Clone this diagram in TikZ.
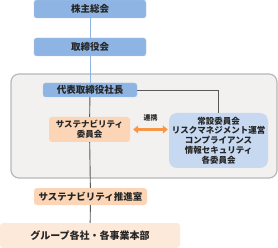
\documentclass[tikz,border=0pt]{standalone}
\usepackage{fontspec}
\usepackage{xcolor}
\usepackage{tikz}
\usetikzlibrary{positioning,arrows.meta}
\newfontfamily\jpfont{Noto Sans CJK JP}
\definecolor{boardblue}{RGB}{141,180,226}
\definecolor{paleblue}{RGB}{198,217,241}
\definecolor{susorange}{RGB}{251,213,181}
\definecolor{paleorange}{RGB}{253,233,217}
\definecolor{linkorange}{RGB}{247,150,70}
\definecolor{panelgray}{RGB}{242,241,240}
\definecolor{textdark}{RGB}{38,38,38}

\begin{document}
\begin{tikzpicture}[
  x=1pt, y=-1pt,
  every node/.style={font=\jpfont\bfseries\fontsize{9.5}{10}\selectfont, text=textdark, align=center},
  small/.style={font=\jpfont\bfseries\fontsize{8.5}{9.8}\selectfont},
  topbox/.style={rectangle, fill=boardblue, draw=boardblue!70!white, rounded corners=2.5pt, minimum width=112pt, minimum height=18pt, inner sep=0pt},
  susbox/.style={rectangle, fill=susorange, rounded corners=3pt, inner sep=0pt},
  line/.style={draw=black!65, line width=0.9pt},
  topline/.style={draw=boardblue, line width=0.9pt},
  link/.style={{Triangle[length=5pt,width=8pt]}-{Triangle[length=5pt,width=8pt]}, draw=linkorange, line width=2.6pt}
]
\useasboundingbox (0,0) rectangle (278,248);

% panel behind the executive part
\draw[fill=panelgray, draw=black!28, line width=1.2pt, rounded corners=8pt] (11,74) rectangle (277,178);

\node[topbox] (shareholders) at (90,9) {株主総会};
\node[topbox] (board) at (90,47) {取締役会};
\node[topbox, minimum width=94pt, minimum height=14pt] (president) at (90,90) {代表取締役社長};

\node[susbox, small, minimum width=81pt, minimum height=25pt] (committee) at (89.5,129.5) {サステナビリティ\\委員会};
\node[rectangle, small, fill=paleblue, rounded corners=8pt, minimum width=99pt, minimum height=55pt, inner sep=0pt] (standing) at (218.5,140.5)
  {常設委員会\\リスクマネジメント運営\\コンプライアンス\\情報セキュリティ\\各委員会};

\node[susbox, minimum width=113pt, minimum height=17pt] (promotion) at (90.5,196.5) {サステナビリティ推進室};
\node[rectangle, fill=paleorange, rounded corners=3pt, minimum width=180pt, minimum height=25pt, inner sep=0pt, font=\jpfont\bfseries\fontsize{10}{10}\selectfont] (group) at (90,235.5) {グループ各社・各事業本部};

% Connectors
\draw[topline] (shareholders) -- (board);
\draw[topline] (board) -- (president);
\draw[line] (president) -- (committee);
\draw[line] (president.east) -| (standing.north);
\draw[line] (committee) -- (promotion);
\draw[line] (promotion) -- (group);

% link between the committees
\draw[link] ([xshift=3pt]committee.east) -- node[above=4pt, font=\jpfont\bfseries\fontsize{7}{7}\selectfont] (linklabel) {連携} ([xshift=-1pt]standing.west |- committee.east);

\end{tikzpicture}
\end{document}
